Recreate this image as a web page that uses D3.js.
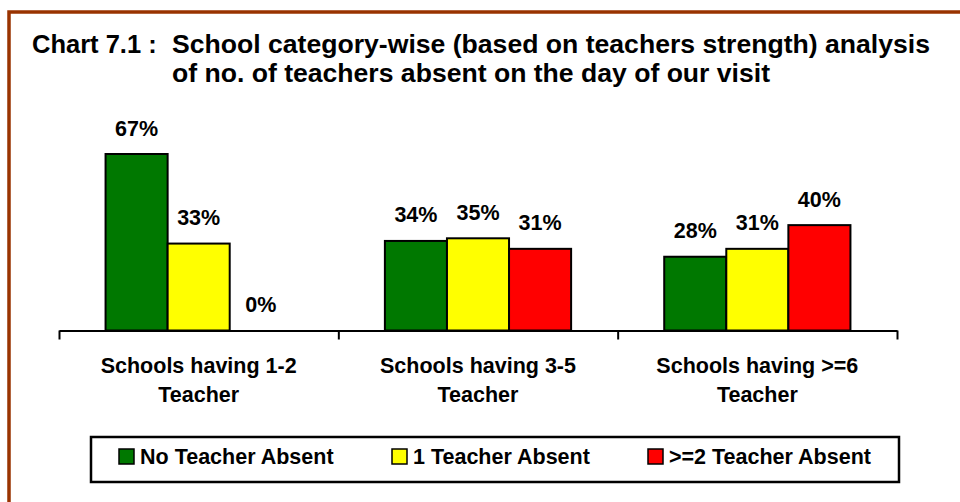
<!DOCTYPE html>
<html>
<head>
<meta charset="utf-8">
<script src="https://cdn.jsdelivr.net/npm/d3@7"></script>
<style>
  html, body { margin: 0; padding: 0; background: #fff; }
  svg { display: block; font-family: "Liberation Sans", Arial, sans-serif; font-weight: bold; }
</style>
</head>
<body>
<svg id="chart" width="960" height="502"></svg>
<script>
const categories = [["Schools having 1-2", "Teacher"], ["Schools having 3-5", "Teacher"], ["Schools having >=6", "Teacher"]];
const seriesNames = ["No Teacher Absent", "1 Teacher Absent", ">=2 Teacher Absent"];
const seriesColors = ["#007800", "#ffff00", "#ff0000"];
const noAbsent = [67, 34, 28];
const oneAbsent = [33, 35, 31];
const twoPlusAbsent = [0, 31, 40];
const titlePrefix = "Chart 7.1 :";
const titleLines = ["School category-wise (based on teachers strength) analysis", "of no. of teachers absent on the day of our visit"];
const titleWidths = [758, 598];

const seriesValues = [noAbsent, oneAbsent, twoPlusAbsent];
const svg = d3.select("#chart");

// outer brown border (extends past the canvas on right and bottom)
svg.append("rect").attr("x", 9).attr("y", 12).attr("width", 1000).attr("height", 600)
  .attr("fill", "none").attr("stroke", "#993300").attr("stroke-width", 3.5);

// title
svg.append("text").attr("x", 32).attr("y", 53).attr("font-size", 25.5).attr("fill", "#000").text(titlePrefix);
svg.selectAll("text.title").data(titleLines).join("text").attr("class", "title")
  .attr("x", 172).attr("y", (d, i) => 53 + i * 29).attr("font-size", 25.5).attr("fill", "#000")
  .attr("textLength", (d, i) => titleWidths[i]).attr("lengthAdjust", "spacingAndGlyphs")
  .text(d => d);

const catIdx = categories.map((d, i) => i);
const x0 = d3.scaleBand().domain(catIdx).range([59, 897]).paddingInner(0).paddingOuter(0);
const x1 = d3.scaleBand().domain(seriesNames).range([0, x0.bandwidth()]).paddingInner(0).paddingOuter(0.75);
const y = d3.scaleLinear().domain([0, 67]).range([330.5, 154]);

// bars
const groups = svg.selectAll("g.cat").data(catIdx).join("g").attr("class", "cat")
  .attr("transform", d => `translate(${x0(d)},0)`);
groups.each(function(ci) {
  const g = d3.select(this);
  const data = seriesNames.map((s, si) => ({s, si, v: seriesValues[si][ci]}));
  g.selectAll("rect").data(data.filter(d => d.v > 0)).join("rect")
    .attr("x", d => x1(d.s)).attr("y", d => y(d.v))
    .attr("width", x1.bandwidth()).attr("height", d => y(0) - y(d.v))
    .attr("fill", d => seriesColors[d.si]).attr("stroke", "#000").attr("stroke-width", 2);
  g.selectAll("text.lbl").data(data).join("text").attr("class", "lbl")
    .attr("x", d => x1(d.s) + x1.bandwidth() / 2).attr("y", d => y(d.v) - 18.5)
    .attr("text-anchor", "middle").attr("font-size", 21.5).attr("fill", "#000")
    .text(d => d.v + "%");
});

// axis
const xt = d3.scaleLinear().domain([0, categories.length]).range([59, 897]);
const axis = svg.append("g").attr("transform", `translate(0,${y(0)})`)
  .call(d3.axisBottom(xt).ticks(categories.length).tickFormat("").tickSize(9).tickSizeOuter(0));
axis.selectAll("path, line").attr("stroke", "#000").attr("stroke-width", 2);

// category labels
svg.selectAll("text.cat").data(catIdx).join("text").attr("class", "cat")
  .attr("text-anchor", "middle").attr("font-size", 21.5).attr("fill", "#000")
  .each(function(ci) {
    const t = d3.select(this);
    categories[ci].forEach((line, li) => {
      t.append("tspan").attr("x", x0(ci) + x0.bandwidth() / 2).attr("y", 373 + li * 29).text(line);
    });
  });

// legend
svg.append("rect").attr("x", 91).attr("y", 437).attr("width", 808).attr("height", 45)
  .attr("fill", "#fff").attr("stroke", "#000").attr("stroke-width", 2.5);
const legendX = [119, 392, 648];
const lg = svg.selectAll("g.leg").data(seriesNames).join("g").attr("class", "leg")
  .attr("transform", (d, i) => `translate(${legendX[i]},449)`);
lg.append("rect").attr("x", 0).attr("y", 0).attr("width", 15).attr("height", 15)
  .attr("fill", (d, i) => seriesColors[i]).attr("stroke", "#000").attr("stroke-width", 1.5);
lg.append("text").attr("x", 21).attr("y", 15).attr("font-size", 21.5).attr("fill", "#000").text(d => d);
</script>
</body>
</html>
